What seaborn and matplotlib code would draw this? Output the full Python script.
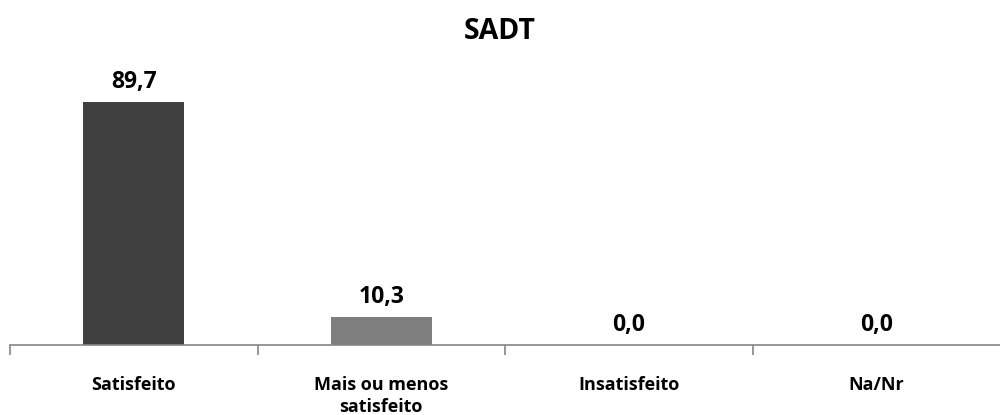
import matplotlib
matplotlib.use("Agg")
import matplotlib.pyplot as plt
import seaborn as sns
import pandas as pd
import numpy as np

categories = ["Satisfeito", "Mais ou menos\nsatisfeito", "Insatisfeito", "Na/Nr"]
values = [89.7, 10.3, 0.0, 0.0]
colors = ["#404040", "#7f7f7f", "#a6a6a6", "#bfbfbf"]
title = "SADT"

sns.set_theme(style="white")
plt.rcParams["font.family"] = ["Open Sans", "DejaVu Sans"]

df = pd.DataFrame({"categoria": categories, "valor": values})

fig = plt.figure(figsize=(10, 4.15), dpi=100)
ax = fig.add_axes([0.01, 0.1687, 0.99, 0.653])

sns.barplot(data=df, x="categoria", y="valor", hue="categoria",
            palette=colors, width=0.41, legend=False, ax=ax,
            saturation=1, edgecolor="none")

for i, v in enumerate(values):
    ax.text(i, v + 3.0, f"{v:.1f}".replace(".", ","), ha="center", va="bottom",
            fontsize=16.5, fontweight="bold", color="#000000")

ax.set_ylim(0, 100)
ax.set_xlim(-0.5, len(categories) - 0.5)
ax.set_xlabel("")
ax.set_ylabel("")
ax.set_yticks([])

for s in ["top", "right", "left"]:
    ax.spines[s].set_visible(False)
ax.spines["bottom"].set_color("#868686")
ax.spines["bottom"].set_linewidth(1.2)

ax.set_xticks(range(len(categories)))
ax.set_xticklabels(categories, fontsize=13, fontweight="bold", color="#000000",
                   linespacing=1.35)
ax.tick_params(axis="x", which="major", length=0, pad=22)
ax.set_xticks(np.arange(-0.5, len(categories) - 0.5, 1.0), minor=True)
ax.tick_params(axis="x", which="minor", length=7, width=1.2, color="#868686",
               direction="out", bottom=True)

fig.text(0.5, 0.923, title, ha="center", va="center", fontsize=20.5,
         fontweight="bold", color="#000000")

fig.savefig("out.png", dpi=100, facecolor="white")
